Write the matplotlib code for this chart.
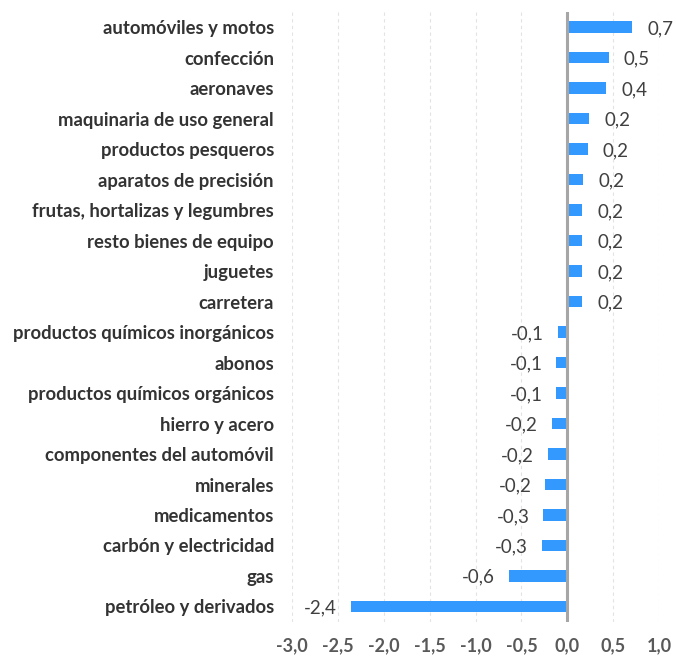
import numpy as np
import matplotlib.pyplot as plt

# Datos (de arriba a abajo)
categorias = [
    "automóviles y motos", "confección", "aeronaves", "maquinaria de uso general",
    "productos pesqueros", "aparatos de precisión", "frutas, hortalizas y legumbres",
    "resto bienes de equipo", "juguetes", "carretera",
    "productos químicos inorgánicos", "abonos", "productos químicos orgánicos",
    "hierro y acero", "componentes del automóvil", "minerales", "medicamentos",
    "carbón y electricidad", "gas", "petróleo y derivados",
]
valores = [0.71, 0.45, 0.42, 0.24, 0.22, 0.17, 0.16, 0.16, 0.16, 0.16,
           -0.10, -0.12, -0.12, -0.17, -0.21, -0.24, -0.26, -0.28, -0.64, -2.36]
ticks_x = np.arange(-3.0, 1.01, 0.5)

plt.rcParams['font.family'] = ['Lato', 'DejaVu Sans']

fig = plt.figure(figsize=(6.76, 6.6), dpi=100)
ax = fig.add_axes([0.432, 0.058, 0.543, 0.924])

y = np.arange(len(categorias))
ax.barh(y, valores, height=0.37, color='#3399ff', zorder=3)

for yi, v in zip(y, valores):
    txt = f"{v:.1f}".replace('.', ',')
    if v >= 0:
        ax.annotate(txt, (v, yi), xytext=(11, -1), textcoords='offset points',
                    ha='left', va='center', fontsize=13.5, color='#404040')
    else:
        ax.annotate(txt, (v, yi), xytext=(-10, -1), textcoords='offset points',
                    ha='right', va='center', fontsize=13.5, color='#404040')

ax.set_xlim(-3.0, 1.0)
ax.set_ylim(len(categorias) - 0.5, -0.5)
ax.set_xticks(ticks_x)
ax.set_xticklabels([f"{t:.1f}".replace('.', ',') for t in ticks_x],
                   fontsize=13, fontweight='bold', color='#595959')
ax.set_yticks(y)
ax.set_yticklabels(categorias, fontsize=13.3, fontweight='bold', color='#333333')
ax.tick_params(axis='y', length=0, pad=13)
ax.tick_params(axis='x', length=0, pad=11)

for s in ax.spines.values():
    s.set_visible(False)
ax.grid(axis='x', color='#e3e3e3', linestyle=(0, (3, 3)), linewidth=0.8, zorder=0)
ax.axvline(0, color='#a6a6a6', linewidth=2.2, zorder=4)

fig.savefig('out.png', dpi=100)
